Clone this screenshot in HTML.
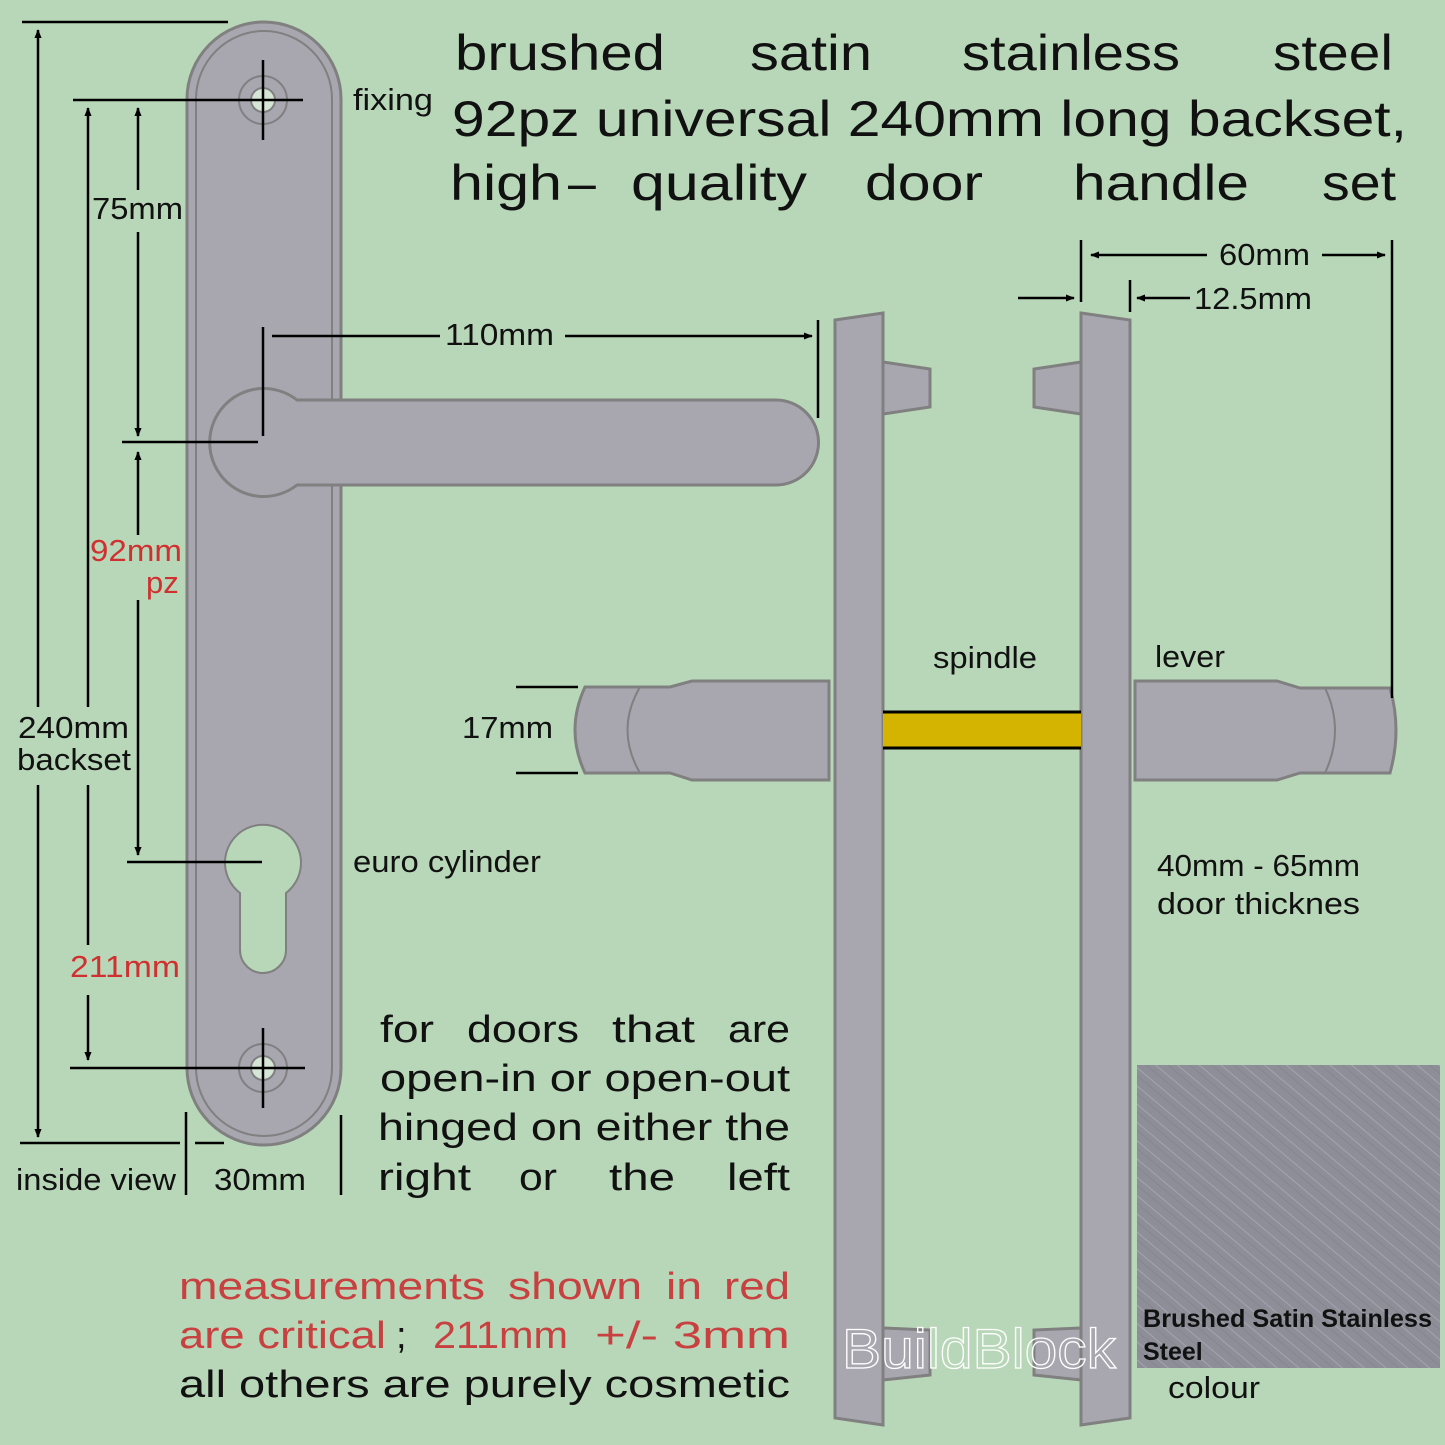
<!DOCTYPE html>
<html><head><meta charset="utf-8"><style>html,body{margin:0;padding:0;background:#b8d7b8}svg{display:block}</style></head>
<body>
<svg width="1445" height="1445" viewBox="0 0 1445 1445" xmlns="http://www.w3.org/2000/svg">
<defs>
<marker id="a" viewBox="0 0 10 10" refX="9" refY="5" markerWidth="9" markerHeight="9" markerUnits="userSpaceOnUse" orient="auto-start-reverse"><path d="M0,1 L10,5 L0,9 z" fill="#000"/></marker>
<pattern id="br" width="14" height="14" patternUnits="userSpaceOnUse" patternTransform="rotate(40)">
<rect width="14" height="14" fill="#8e8e98"/><line x1="0" y1="3" x2="14" y2="3" stroke="#a4a4ae" stroke-width="1"/><line x1="0" y1="9" x2="14" y2="9" stroke="#86868f" stroke-width="1"/></pattern>
</defs>
<rect width="1445" height="1445" fill="#b8d7b8"/>
<g fill="#a8a7b0" stroke="#808080" stroke-width="3">
<rect x="187" y="22" width="154" height="1123" rx="77"/>
<rect x="196" y="31" width="136" height="1105" rx="68" fill="none" stroke-width="2"/>
<path d="M297,400 L776,400 A42,42 0 0 1 776,485 L297,485 A54,54 0 1 1 297,400 Z"/>
<circle cx="263" cy="100" r="24" fill="none" stroke-width="2"/>
<circle cx="263" cy="100" r="12" fill="#d6e6d6" stroke-width="2"/>
<circle cx="263" cy="1068" r="24" fill="none" stroke-width="2"/>
<circle cx="263" cy="1068" r="12" fill="#d6e6d6" stroke-width="2"/>
<path d="M240,893 A38,38 0 1 1 286,893 L286,950 A23,23 0 0 1 240,950 Z" fill="#b8d7b8" stroke-width="2"/>
<path d="M835,320 L883,313 L883,1425 L835,1418 Z"/>
<path d="M883,362 L930,369 L930,407 L883,414 Z"/>
<path d="M883,1328 L930,1330 L930,1375 L883,1380 Z"/>
<path d="M1081,313 L1130,320 L1130,1418 L1081,1425 Z"/>
<path d="M1081,362 L1034,369 L1034,407 L1081,414 Z"/>
<path d="M1081,1328 L1034,1330 L1034,1375 L1081,1380 Z"/>
<path d="M829,681 L692,681 L670,687 L585,687 Q565,730 585,773 L670,773 L692,780 L829,780 Z"/>
<path d="M640,687 Q615,730 640,773" fill="none" stroke-width="2"/>
<path d="M1135,681 L1277,681 L1300,688 L1390,688 Q1402,730 1390,773 L1300,773 L1277,780 L1135,780 Z"/>
<path d="M1325,688 Q1345,730 1325,773" fill="none" stroke-width="2"/>
</g>
<rect x="883" y="712" width="198" height="36" fill="#d4b400"/>
<line x1="883" y1="712" x2="1081" y2="712" stroke="#000" stroke-width="3"/>
<line x1="883" y1="748" x2="1081" y2="748" stroke="#000" stroke-width="3"/>
<rect x="1137" y="1065" width="303" height="303" fill="url(#br)"/>
<g stroke="#000" stroke-width="2.5" fill="none">
<line x1="22" y1="22" x2="228" y2="22"/><line x1="20" y1="1143" x2="180" y2="1143"/><line x1="195" y1="1143" x2="224" y2="1143"/>
<line x1="38" y1="30" x2="38" y2="707" marker-start="url(#a)"/><line x1="38" y1="785" x2="38" y2="1137" marker-end="url(#a)"/>
<line x1="73" y1="100" x2="303" y2="100"/><line x1="263" y1="60" x2="263" y2="140"/>
<line x1="263" y1="1028" x2="263" y2="1108"/><line x1="70" y1="1068" x2="305" y2="1068"/>
<line x1="88" y1="108" x2="88" y2="707" marker-start="url(#a)"/><line x1="88" y1="785" x2="88" y2="945"/><line x1="88" y1="995" x2="88" y2="1060" marker-end="url(#a)"/>
<line x1="138" y1="108" x2="138" y2="190" marker-start="url(#a)"/><line x1="138" y1="232" x2="138" y2="436" marker-end="url(#a)"/>
<line x1="122" y1="442" x2="258" y2="442"/><line x1="263" y1="327" x2="263" y2="436"/>
<line x1="138" y1="452" x2="138" y2="535" marker-start="url(#a)"/><line x1="138" y1="600" x2="138" y2="855" marker-end="url(#a)"/>
<line x1="127" y1="862" x2="262" y2="862"/>
<line x1="186" y1="1112" x2="186" y2="1195"/><line x1="341" y1="1115" x2="341" y2="1195"/>
<line x1="272" y1="336" x2="440" y2="336"/><line x1="565" y1="336" x2="812" y2="336" marker-end="url(#a)"/>
<line x1="818" y1="320" x2="818" y2="418"/>
<line x1="516" y1="687" x2="578" y2="687"/><line x1="516" y1="773" x2="578" y2="773"/>
<line x1="1081" y1="240" x2="1081" y2="302"/><line x1="1392" y1="240" x2="1392" y2="698"/>
<line x1="1091" y1="255" x2="1207" y2="255" marker-start="url(#a)"/><line x1="1322" y1="255" x2="1385" y2="255" marker-end="url(#a)"/>
<line x1="1018" y1="298" x2="1074" y2="298" marker-end="url(#a)"/>
<line x1="1130" y1="280" x2="1130" y2="312"/><line x1="1137" y1="298" x2="1190" y2="298" marker-start="url(#a)"/>
</g>
<g font-family="Liberation Sans, sans-serif" fill="#111">
<g font-size="50">
<text x="455" y="70" textLength="210" lengthAdjust="spacingAndGlyphs">brushed</text>
<text x="750" y="70" textLength="122" lengthAdjust="spacingAndGlyphs">satin</text>
<text x="962" y="70" textLength="218" lengthAdjust="spacingAndGlyphs">stainless</text>
<text x="1273" y="70" textLength="120" lengthAdjust="spacingAndGlyphs">steel</text>
<text x="452" y="136" textLength="955" lengthAdjust="spacingAndGlyphs">92pz universal 240mm long backset,</text>
<text x="450" y="200" textLength="112" lengthAdjust="spacingAndGlyphs">high</text>
<text x="568" y="200">–</text>
<text x="631" y="200" textLength="176" lengthAdjust="spacingAndGlyphs">quality</text>
<text x="865" y="200" textLength="118" lengthAdjust="spacingAndGlyphs">door</text>
<text x="1073" y="200" textLength="176" lengthAdjust="spacingAndGlyphs">handle</text>
<text x="1322" y="200" textLength="74" lengthAdjust="spacingAndGlyphs">set</text>
</g>
<g font-size="31">
<text x="353" y="110" textLength="80" lengthAdjust="spacingAndGlyphs">fixing</text>
<text x="92" y="219" textLength="91" lengthAdjust="spacingAndGlyphs">75mm</text>
<text x="445" y="345" textLength="109" lengthAdjust="spacingAndGlyphs">110mm</text>
<text x="90" y="561" fill="#d03030" textLength="92" lengthAdjust="spacingAndGlyphs">92mm</text>
<text x="146" y="593" fill="#d03030">pz</text>
<text x="18" y="738" textLength="111" lengthAdjust="spacingAndGlyphs">240mm</text>
<text x="17" y="770" textLength="114" lengthAdjust="spacingAndGlyphs">backset</text>
<text x="70" y="977" fill="#d03030" textLength="110" lengthAdjust="spacingAndGlyphs">211mm</text>
<text x="353" y="872" textLength="188" lengthAdjust="spacingAndGlyphs">euro cylinder</text>
<text x="462" y="738" textLength="91" lengthAdjust="spacingAndGlyphs">17mm</text>
<text x="16" y="1190" textLength="160" lengthAdjust="spacingAndGlyphs">inside view</text>
<text x="214" y="1190" textLength="92" lengthAdjust="spacingAndGlyphs">30mm</text>
<text x="933" y="668" textLength="104" lengthAdjust="spacingAndGlyphs">spindle</text>
<text x="1155" y="667" textLength="70" lengthAdjust="spacingAndGlyphs">lever</text>
<text x="1219" y="265" textLength="91" lengthAdjust="spacingAndGlyphs">60mm</text>
<text x="1194" y="309" textLength="118" lengthAdjust="spacingAndGlyphs">12.5mm</text>
<text x="1157" y="876" textLength="203" lengthAdjust="spacingAndGlyphs">40mm - 65mm</text>
<text x="1157" y="914" textLength="203" lengthAdjust="spacingAndGlyphs">door  thicknes</text>
<text x="1168" y="1398" textLength="92" lengthAdjust="spacingAndGlyphs">colour</text>
</g>
<g font-size="38">
<text x="380" y="1042" textLength="54" lengthAdjust="spacingAndGlyphs">for</text>
<text x="467" y="1042" textLength="112" lengthAdjust="spacingAndGlyphs">doors</text>
<text x="612" y="1042" textLength="83" lengthAdjust="spacingAndGlyphs">that</text>
<text x="728" y="1042" textLength="62" lengthAdjust="spacingAndGlyphs">are</text>
<text x="380" y="1091" textLength="410" lengthAdjust="spacingAndGlyphs">open-in or open-out</text>
<text x="378" y="1140" textLength="412" lengthAdjust="spacingAndGlyphs">hinged on either the</text>
<text x="378" y="1190" textLength="93" lengthAdjust="spacingAndGlyphs">right</text>
<text x="519" y="1190" textLength="38" lengthAdjust="spacingAndGlyphs">or</text>
<text x="609" y="1190" textLength="66" lengthAdjust="spacingAndGlyphs">the</text>
<text x="727" y="1190" textLength="63" lengthAdjust="spacingAndGlyphs">left</text>
<g fill="#c84040">
<text x="179" y="1299" textLength="306" lengthAdjust="spacingAndGlyphs">measurements</text>
<text x="508" y="1299" textLength="134" lengthAdjust="spacingAndGlyphs">shown</text>
<text x="666" y="1299" textLength="36" lengthAdjust="spacingAndGlyphs">in</text>
<text x="724" y="1299" textLength="66" lengthAdjust="spacingAndGlyphs">red</text>
<text x="179" y="1348" textLength="207" lengthAdjust="spacingAndGlyphs">are critical</text>
<text x="433" y="1348" textLength="135" lengthAdjust="spacingAndGlyphs">211mm</text>
<text x="595" y="1348" textLength="195" lengthAdjust="spacingAndGlyphs">+/- 3mm</text>
</g>
<text x="396" y="1348">;</text>
<text x="179" y="1397" textLength="611" lengthAdjust="spacingAndGlyphs">all others are purely cosmetic</text>
</g>
<text x="1143" y="1327" font-size="25" font-weight="bold" textLength="289" lengthAdjust="spacingAndGlyphs">Brushed Satin Stainless</text>
<text x="1143" y="1360" font-size="25" font-weight="bold">Steel</text>
<text x="842" y="1368" font-size="56" fill="none" stroke="#ffffff" stroke-width="1.3" textLength="274" lengthAdjust="spacingAndGlyphs">BuildBlock</text>
</g>
</svg>
</body></html>
